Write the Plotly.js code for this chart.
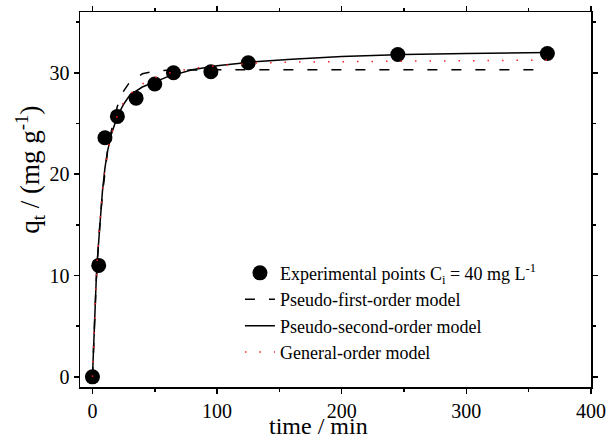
<!DOCTYPE html>
<html><head><meta charset="utf-8">
<script src="https://cdn.plot.ly/plotly-3.0.1.min.js"></script>
<style>html,body{margin:0;padding:0;background:#fff}#chart{width:608px;height:441px}</style>
</head><body><div id="chart"></div>
<script>
// Experimental data
const timeExp = [0, 5, 10, 20, 35, 50, 65, 95, 125, 245, 365];
const qExp = [0, 11.0, 23.6, 25.7, 27.5, 28.9, 30.0, 30.1, 31.0, 31.8, 31.9];
// Model curves
const timeModel = [0, 0.5, 1, 2, 3, 4, 5, 6, 8, 10, 12, 15, 20, 25, 30, 40, 50, 60, 80, 100, 130, 160, 200, 250, 300, 365];
const qPFO = [0, 1.9, 3.7, 6.8, 9.4, 11.6, 13.5, 15.2, 18.0, 20.4, 22.2, 24.2, 26.7, 28.2, 29.1, 29.9, 30.15, 30.25, 30.3, 30.3, 30.3, 30.3, 30.3, 30.3, 30.3, 30.3];
const qPSO = [0, 2.0, 3.9, 7.0, 9.5, 11.7, 13.6, 15.3, 18.3, 20.6, 22.2, 23.9, 25.7, 26.9, 27.8, 28.6, 29.1, 29.6, 30.3, 30.7, 31.1, 31.35, 31.6, 31.8, 31.9, 32.0];
const qGO = [0, 2.0, 3.9, 7.0, 9.6, 11.9, 13.8, 15.5, 18.5, 20.6, 22.1, 23.9, 25.8, 27.1, 27.9, 28.9, 29.5, 29.95, 30.45, 30.7, 30.95, 31.05, 31.1, 31.15, 31.2, 31.25];
const xTicks = [0, 100, 200, 300, 400];
const yTicks = [0, 10, 20, 30];
const xTitle = 'time / min';
const yTitle = 'q<sub>t</sub> / (mg g<sup>-1</sup>)';

const FONT = '"Liberation Serif", "Times New Roman", serif';
const traces = [
  {x: timeExp, y: qExp, mode: 'markers', type: 'scatter',
   name: 'Experimental points C<sub>i</sub> = 40 mg L<sup>-1</sup>',
   marker: {color: '#000', size: 15, symbol: 'circle'}},
  {x: timeModel, y: qPFO, mode: 'lines', type: 'scatter', name: 'Pseudo-first-order model',
   line: {color: '#000', width: 1.5, dash: '10px,14px'}},
  {x: timeModel, y: qPSO, mode: 'lines', type: 'scatter', name: 'Pseudo-second-order model',
   line: {color: '#000', width: 1.5}},
  {x: timeModel, y: qGO, mode: 'lines', type: 'scatter', name: 'General-order model',
   line: {color: '#ff2020', width: 1.5, dash: '1.5px,13px'}}
];
const axisCommon = {
  showgrid: false, zeroline: false, showline: true, linecolor: '#000', linewidth: 1.5,
  mirror: 'ticks', ticks: 'outside', ticklen: 5, tickwidth: 1.5, tickcolor: '#000',
  tickfont: {family: FONT, size: 20, color: '#000'},
  minor: {ticks: 'outside', ticklen: 3, tickwidth: 1.5, tickcolor: '#000'}
};
const layout = {
  width: 608, height: 441,
  margin: {l: 80, r: 17, t: 12, b: 54},
  paper_bgcolor: '#fff', plot_bgcolor: '#fff',
  font: {family: FONT, color: '#000'},
  showlegend: true,
  legend: {x: 0.313, y: 0.353, xanchor: 'left', yanchor: 'top', bgcolor: 'rgba(0,0,0,0)',
           font: {family: FONT, size: 18, color: '#000'}},
  xaxis: Object.assign({}, axisCommon, {
    range: [-10, 400], tickvals: xTicks, ticktext: xTicks.map(String),
    minor: Object.assign({}, axisCommon.minor, {dtick: 50, tick0: 0})
  }),
  yaxis: Object.assign({}, axisCommon, {
    range: [-1, 36], tickvals: yTicks, ticktext: yTicks.map(String),
    minor: Object.assign({}, axisCommon.minor, {dtick: 5, tick0: 0})
  }),
  annotations: [
    {text: xTitle, xref: 'paper', yref: 'paper', x: 0.466, y: -0.104, xanchor: 'center', yanchor: 'middle',
     showarrow: false, font: {family: FONT, size: 24, color: '#000'}},
    {text: yTitle, xref: 'paper', yref: 'paper', x: -0.098, y: 0.579, xanchor: 'center', yanchor: 'middle',
     textangle: -90, showarrow: false, font: {family: FONT, size: 27, color: '#000'}}
  ]
};
Plotly.newPlot('chart', traces, layout, {displayModeBar: false, staticPlot: true});
</script></body></html>
